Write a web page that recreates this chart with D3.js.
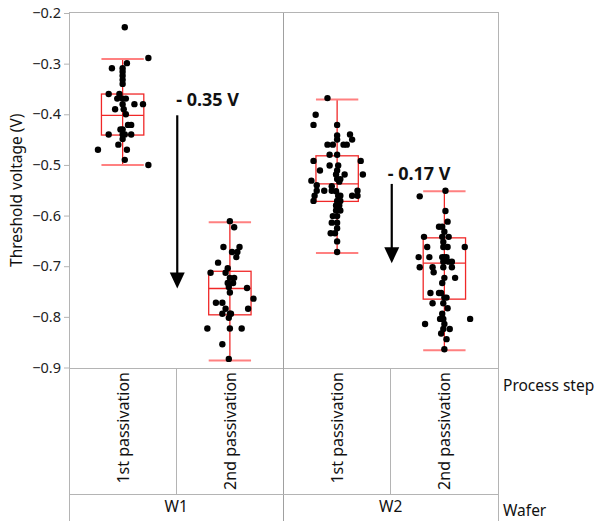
<!DOCTYPE html>
<html>
<head>
<meta charset="utf-8">
<script src="https://cdn.jsdelivr.net/npm/d3@7"></script>
<style>
  html, body { margin: 0; padding: 0; background: #fff; }
  svg { display: block; font-family: "Noto Sans", "Open Sans", sans-serif; }
  .frame { stroke: #b4b4b4; stroke-width: 1; fill: none; shape-rendering: crispEdges; }
  .tick-label { font-size: 14.5px; fill: #222; }
  .cat-label { font-size: 15.5px; fill: #111; }
  .step { font-size: 16px; }
  .note { font-size: 18px; font-weight: bold; fill: #111; }
</style>
</head>
<body>
<div id="chart"></div>
<script>
// categories
const wafers = ["W1", "W2"];
const steps = ["1st passivation", "2nd passivation"];
const yTicks = [-0.2, -0.3, -0.4, -0.5, -0.6, -0.7, -0.8, -0.9];

// points: [threshold voltage, jitter as fraction of column width]
const w1First = [
  [-0.228, 0.02], [-0.289, 0.24], [-0.299, 0.04], [-0.309, -0.10], [-0.309, 0], [-0.316, 0],
  [-0.324, 0], [-0.332, 0], [-0.340, 0], [-0.360, -0.13], [-0.360, -0.03], [-0.369, -0.05],
  [-0.369, 0], [-0.369, 0.03], [-0.380, 0], [-0.380, 0.11], [-0.380, 0.19], [-0.390, -0.07],
  [-0.390, 0.01], [-0.400, 0.03], [-0.421, 0.05], [-0.421, 0.08], [-0.430, -0.02], [-0.430, 0],
  [-0.440, -0.13], [-0.440, 0], [-0.440, 0.02], [-0.440, 0.08], [-0.449, 0], [-0.460, -0.04],
  [-0.470, -0.23], [-0.470, 0.04], [-0.490, 0.02], [-0.500, 0.24]
];
const w1Second = [
  [-0.611, 0], [-0.623, 0.04], [-0.662, -0.06], [-0.662, 0.09], [-0.672, 0.02], [-0.672, 0.07],
  [-0.682, 0.06], [-0.693, -0.11], [-0.704, -0.02], [-0.713, -0.18], [-0.713, -0.04], [-0.723, 0],
  [-0.723, 0.04], [-0.733, -0.02], [-0.733, 0.03], [-0.741, -0.01], [-0.743, 0.16], [-0.752, 0],
  [-0.764, 0.22], [-0.772, -0.13], [-0.772, -0.07], [-0.784, -0.04], [-0.784, 0.17], [-0.794, -0.07],
  [-0.794, 0], [-0.794, 0.01], [-0.802, -0.01], [-0.823, -0.21], [-0.823, 0], [-0.823, 0.11],
  [-0.854, -0.07], [-0.883, -0.01]
];
const w2First = [
  [-0.368, -0.09], [-0.401, -0.20], [-0.421, -0.22], [-0.421, 0], [-0.440, 0.12], [-0.442, 0],
  [-0.450, 0], [-0.450, 0.14], [-0.460, -0.09], [-0.460, -0.04], [-0.460, 0.06], [-0.460, 0.09],
  [-0.480, -0.07], [-0.480, 0], [-0.492, -0.22], [-0.492, 0.22], [-0.501, -0.07], [-0.501, 0.01],
  [-0.511, -0.16], [-0.511, 0], [-0.519, -0.01], [-0.519, 0.07], [-0.519, 0.24], [-0.528, 0],
  [-0.528, 0.03], [-0.531, -0.24], [-0.533, 0.02], [-0.540, -0.19], [-0.542, -0.05], [-0.551, -0.19],
  [-0.551, -0.12], [-0.551, -0.05], [-0.552, -0.01], [-0.551, 0.19], [-0.561, -0.21], [-0.561, 0.01],
  [-0.561, 0.03], [-0.561, 0.14], [-0.561, 0.19], [-0.571, -0.22], [-0.571, 0], [-0.571, 0.03],
  [-0.580, -0.01], [-0.580, 0.02], [-0.590, -0.01], [-0.590, 0.03], [-0.601, -0.04], [-0.601, 0],
  [-0.614, -0.05], [-0.614, 0], [-0.625, 0], [-0.635, -0.06], [-0.635, -0.02], [-0.651, 0],
  [-0.672, 0]
];
const w2Second = [
  [-0.551, 0.01], [-0.562, -0.23], [-0.591, 0.01], [-0.612, 0.03], [-0.622, -0.05], [-0.622, -0.02],
  [-0.632, 0], [-0.642, -0.19], [-0.642, -0.02], [-0.642, 0.04], [-0.652, -0.01], [-0.662, -0.16],
  [-0.662, -0.01], [-0.662, 0.03], [-0.662, 0.19], [-0.682, -0.24], [-0.682, -0.14], [-0.682, -0.02],
  [-0.682, 0], [-0.682, 0.02], [-0.691, -0.01], [-0.691, 0.04], [-0.691, 0.07], [-0.702, -0.23],
  [-0.702, -0.11], [-0.702, -0.01], [-0.702, 0.07], [-0.712, -0.10], [-0.723, 0], [-0.723, 0.10],
  [-0.733, -0.02], [-0.753, -0.13], [-0.753, -0.05], [-0.753, -0.03], [-0.762, 0], [-0.762, 0.02],
  [-0.773, -0.11], [-0.773, -0.01], [-0.783, 0.03], [-0.794, -0.02], [-0.804, -0.04], [-0.804, -0.01],
  [-0.804, 0.24], [-0.814, -0.18], [-0.814, 0], [-0.824, -0.01], [-0.824, 0.05], [-0.833, -0.03],
  [-0.844, 0.02], [-0.864, 0]
];

// box plot stats per column (W1-1st, W1-2nd, W2-1st, W2-2nd)
const whiskerLow  = [-0.500, -0.886, -0.674, -0.866];
const quart1      = [-0.441, -0.796, -0.572, -0.765];
const medians     = [-0.402, -0.744, -0.5375, -0.694];
const quart3      = [-0.360, -0.710, -0.482, -0.644];
const whiskerHigh = [-0.291, -0.613, -0.371, -0.552];

// shift annotations
const shiftLabels = ["- 0.35 V", "- 0.17 V"];

const width = 597, height = 521;
const plotLeft = 69, plotRight = 498, plotTop = 12.5, plotBottom = 368, stepBottom = 494, tableBottom = 521;

const svg = d3.select("#chart").append("svg")
  .attr("width", width)
  .attr("height", height);

const columns = [];
wafers.forEach(w => steps.forEach(s => columns.push(w + "|" + s)));
const groups = [w1First, w1Second, w2First, w2Second];

const x = d3.scaleBand().domain(columns).range([plotLeft, plotRight]).padding(0);
const xWafer = d3.scaleBand().domain(wafers).range([plotLeft, plotRight]).padding(0);
const y = d3.scaleLinear().domain([-0.9, -0.2]).range([367.5, 13]);

const bw = x.bandwidth();
const boxW = bw * 0.395;
const cx = k => x(k) + bw / 2;

// frame of the plot and the label table
svg.append("rect").attr("class", "frame")
  .attr("x", plotLeft).attr("y", plotTop).attr("width", plotRight - plotLeft).attr("height", plotBottom - plotTop);
svg.append("line").attr("class", "frame")
  .attr("x1", xWafer("W2")).attr("x2", xWafer("W2")).attr("y1", plotTop).attr("y2", tableBottom)
  .style("stroke", "#a0a0a0");
svg.append("line").attr("class", "frame")
  .attr("x1", plotLeft).attr("x2", plotLeft).attr("y1", plotBottom).attr("y2", tableBottom);
svg.append("line").attr("class", "frame")
  .attr("x1", plotRight).attr("x2", plotRight).attr("y1", plotBottom).attr("y2", tableBottom);
svg.append("line").attr("class", "frame")
  .attr("x1", plotLeft).attr("x2", plotRight).attr("y1", stepBottom).attr("y2", stepBottom);
svg.selectAll("line.step-sep")
  .data([columns[1], columns[3]])
  .enter().append("line")
  .attr("class", "frame step-sep")
  .attr("x1", d => x(d)).attr("x2", d => x(d))
  .attr("y1", plotBottom).attr("y2", stepBottom);

// y axis
const yAxis = d3.axisLeft(y).tickValues(yTicks).tickSize(5).tickPadding(3)
  .tickFormat(d => d3.format(".1f")(d));
const gy = svg.append("g").attr("transform", `translate(${plotLeft},0)`).call(yAxis);
gy.select(".domain").remove();
gy.selectAll(".tick line").attr("stroke", "#b4b4b4");
gy.selectAll(".tick text").attr("class", "tick-label").attr("font-family", null).attr("font-size", null);
gy.attr("font-family", null).attr("font-size", null);

svg.append("text")
  .attr("class", "cat-label")
  .attr("transform", `translate(22,${(13 + 367.5) / 2}) rotate(-90)`)
  .attr("text-anchor", "middle")
  .text("Threshold voltage (V)");

// category labels
svg.selectAll("text.step")
  .data(columns)
  .enter().append("text")
  .attr("class", "cat-label step")
  .attr("transform", d => `translate(${cx(d) + 6},${plotBottom + 4}) rotate(-90)`)
  .attr("text-anchor", "end")
  .text(d => d.split("|")[1]);

svg.selectAll("text.wafer")
  .data(wafers)
  .enter().append("text")
  .attr("class", "cat-label wafer")
  .attr("x", d => xWafer(d) + xWafer.bandwidth() / 2)
  .attr("y", 512)
  .attr("text-anchor", "middle")
  .text(d => d);

svg.append("text").attr("class", "cat-label")
  .attr("x", 503).attr("y", 391).text("Process step");
svg.append("text").attr("class", "cat-label")
  .attr("x", 503).attr("y", 516).text("Wafer");

// box plots
const boxes = svg.append("g");
columns.forEach((k, i) => {
  const c = cx(k);
  boxes.append("line")
    .attr("x1", c).attr("x2", c)
    .attr("y1", y(whiskerLow[i])).attr("y2", y(whiskerHigh[i]))
    .attr("stroke", "#f02828").attr("stroke-width", 1.3);
  [whiskerLow[i], whiskerHigh[i]].forEach(v => {
    boxes.append("line")
      .attr("x1", c - boxW / 2).attr("x2", c + boxW / 2)
      .attr("y1", y(v)).attr("y2", y(v))
      .attr("stroke", "#ff8080").attr("stroke-width", 2);
  });
  boxes.append("rect")
    .attr("x", c - boxW / 2).attr("width", boxW)
    .attr("y", y(quart3[i])).attr("height", y(quart1[i]) - y(quart3[i]))
    .attr("fill", "none").attr("stroke", "#f02828").attr("stroke-width", 1.3);
  boxes.append("line")
    .attr("x1", c - boxW / 2).attr("x2", c + boxW / 2)
    .attr("y1", y(medians[i])).attr("y2", y(medians[i]))
    .attr("stroke", "#f02828").attr("stroke-width", 1.3);
});

// points
groups.forEach((pts, i) => {
  svg.append("g").selectAll("circle")
    .data(pts)
    .enter().append("circle")
    .attr("cx", d => cx(columns[i]) + d[1] * bw)
    .attr("cy", d => y(d[0]))
    .attr("r", 3.2)
    .attr("fill", "#000");
});

// arrows between medians of the two process steps
const noteOffsets = [[-1, -9], [-4, -4]];
wafers.forEach((w, j) => {
  const ax = x(columns[j * 2 + 1]) + 1;
  const y0 = y(medians[j * 2]);
  const y1 = y(medians[j * 2 + 1]);
  svg.append("line")
    .attr("x1", ax).attr("x2", ax)
    .attr("y1", y0).attr("y2", y1 - 14)
    .attr("stroke", "#000").attr("stroke-width", 2.2);
  svg.append("path")
    .attr("d", `M${ax - 7.5},${y1 - 16} L${ax + 7.5},${y1 - 16} L${ax},${y1} Z`)
    .attr("fill", "#000");
  svg.append("text")
    .attr("class", "note")
    .attr("x", ax + noteOffsets[j][0])
    .attr("y", y0 + noteOffsets[j][1])
    .text(shiftLabels[j]);
});
</script>
</body>
</html>
